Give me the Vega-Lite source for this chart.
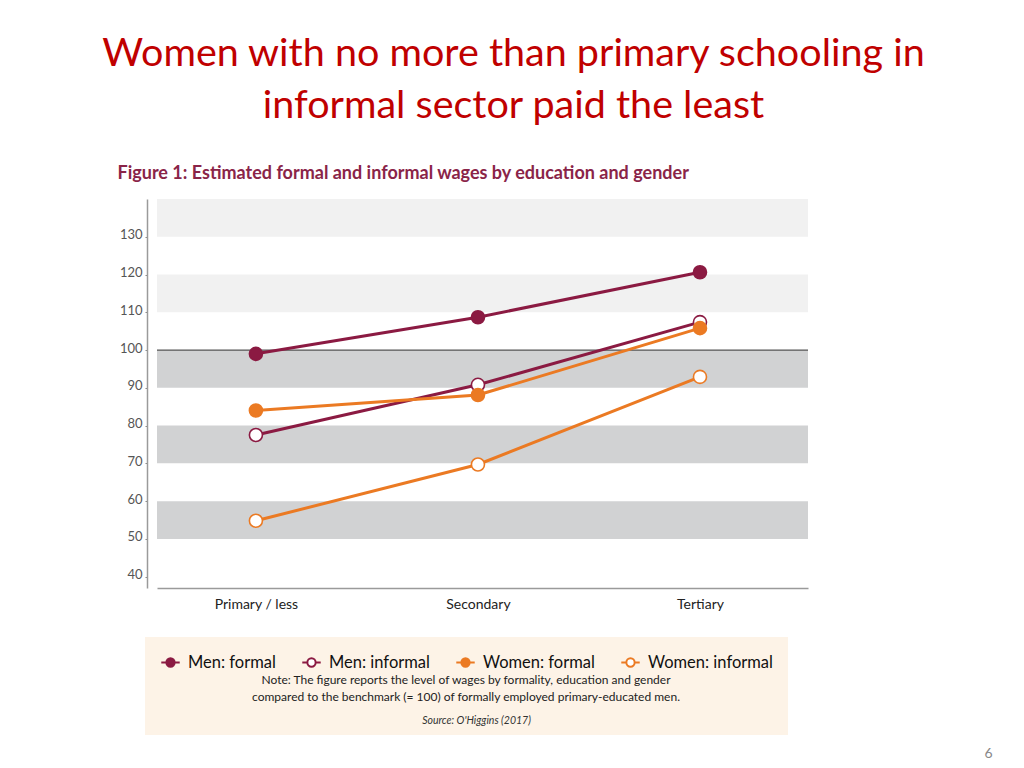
{
  "$schema": "https://vega.github.io/schema/vega-lite/v6.json",
  "width": 651,
  "height": 389,
  "autosize": {"type": "none"},
  "padding": {"left": 157, "top": 199, "right": 216, "bottom": 180},
  "background": "white",
  "title": {
    "text": ["Women with no more than primary schooling in", "informal sector paid the least"],
    "font": "Lato",
    "fontSize": 39.5,
    "fontWeight": "normal",
    "color": "#c00000",
    "anchor": "middle",
    "frame": "group",
    "dx": 31,
    "dy": -38,
    "lineHeight": 52,
    "offset": 0
  },
  "config": {"view": {"stroke": null}},
  "datasets": {
    "bands": [
      {"lo": 130, "hi": 140, "shade": "light"},
      {"lo": 110, "hi": 120, "shade": "light"},
      {"lo": 90, "hi": 100, "shade": "dark"},
      {"lo": 70, "hi": 80, "shade": "dark"},
      {"lo": 50, "hi": 60, "shade": "dark"}
    ],
    "ref": [{"v": 100}],
    "wages": [
      {"series": "Men: formal", "edu": "Primary / less", "wage": 99},
      {"series": "Men: formal", "edu": "Secondary", "wage": 108.7},
      {"series": "Men: formal", "edu": "Tertiary", "wage": 120.6},
      {"series": "Men: informal", "edu": "Primary / less", "wage": 77.5},
      {"series": "Men: informal", "edu": "Secondary", "wage": 90.8},
      {"series": "Men: informal", "edu": "Tertiary", "wage": 107.4},
      {"series": "Women: formal", "edu": "Primary / less", "wage": 84},
      {"series": "Women: formal", "edu": "Secondary", "wage": 88.1},
      {"series": "Women: formal", "edu": "Tertiary", "wage": 105.8},
      {"series": "Women: informal", "edu": "Primary / less", "wage": 54.8},
      {"series": "Women: informal", "edu": "Secondary", "wage": 69.7},
      {"series": "Women: informal", "edu": "Tertiary", "wage": 92.9}
    ]
  },
  "resolve": {"axis": {"y": "independent"}},
  "layer": [
    {
      "data": {"name": "bands"},
      "transform": [{"filter": "datum.shade === 'light'"}],
      "mark": {"type": "rect", "color": "#f1f1f1"},
      "encoding": {
        "y": {
          "field": "lo",
          "type": "quantitative",
          "scale": {"domain": [37, 140], "nice": false, "zero": false},
          "axis": {
            "orient": "left",
            "offset": 10,
            "values": [40, 50, 60, 70, 80, 90, 100, 110, 120, 130],
            "grid": false,
            "domainColor": "#9a9a9a",
            "domainWidth": 1.5,
            "tickColor": "#888888",
            "tickSize": 2,
            "tickWidth": 1,
            "labelFont": "Lato",
            "labelFontSize": 13,
            "labelColor": "#555555",
            "labelPadding": 3,
            "labelOffset": -2,
            "title": "Figure 1: Estimated formal and informal wages by education and gender",
            "titleAngle": 0,
            "titleAlign": "left",
            "titleBaseline": "alphabetic",
            "titleX": -30,
            "titleY": -21,
            "titleFont": "Lato",
            "titleFontSize": 18,
            "titleFontWeight": "bold",
            "titleColor": "#8a2448"
          }
        },
        "y2": {"field": "hi"}
      }
    },
    {
      "data": {"name": "bands"},
      "transform": [{"filter": "datum.shade === 'dark'"}],
      "mark": {"type": "rect", "color": "#d1d2d3"},
      "encoding": {
        "y": {"field": "lo", "type": "quantitative", "axis": null},
        "y2": {"field": "hi"}
      }
    },
    {
      "data": {"name": "ref"},
      "mark": {"type": "rule", "color": "#555555", "strokeWidth": 1.2},
      "encoding": {
        "y": {
          "field": "v",
          "type": "quantitative",
          "axis": {
            "orient": "right",
            "domain": false,
            "ticks": false,
            "labels": false,
            "grid": false,
            "title": "6",
            "titleAngle": 0,
            "titleX": 180,
            "titleY": 558,
            "titleAlign": "center",
            "titleBaseline": "alphabetic",
            "titleFont": "Lato",
            "titleFontSize": 14,
            "titleFontWeight": "normal",
            "titleColor": "#888888"
          }
        }
      }
    },
    {
      "data": {"name": "wages"},
      "mark": {"type": "line", "strokeWidth": 3},
      "encoding": {
        "x": {
          "field": "edu",
          "type": "nominal",
          "sort": ["Primary / less", "Secondary", "Tertiary"],
          "scale": {"type": "point", "padding": 0.466, "align": 0.478},
          "axis": {
            "orient": "bottom",
            "domainColor": "#9a9a9a",
            "domainWidth": 1.5,
            "ticks": false,
            "grid": false,
            "labelFont": "Lato",
            "labelFontSize": 14,
            "labelColor": "#222222",
            "labelPadding": 9,
            "labelAngle": 0,
            "title": "Source: O'Higgins (2017)",
            "titleFont": "Lato",
            "titleFontSize": 10.5,
            "titleFontStyle": "italic",
            "titleFontWeight": "normal",
            "titleColor": "#333333",
            "titleX": 319,
            "titleY": 135,
            "titleAlign": "center",
            "titleBaseline": "alphabetic",
            "zindex": 1
          }
        },
        "y": {"field": "wage", "type": "quantitative", "axis": null},
        "color": {
          "field": "series",
          "type": "nominal",
          "scale": {
            "domain": ["Men: formal", "Men: informal", "Women: formal", "Women: informal"],
            "range": ["#8b1a42", "#8b1a42", "#eb7a23", "#eb7a23"]
          },
          "legend": {
            "orient": "none",
            "legendX": -12,
            "legendY": 438,
            "direction": "horizontal",
            "columns": 4,
            "fillColor": "#fdf3e7",
            "padding": 15,
            "columnPadding": 22,
            "title": ["Note: The figure reports the level of wages by formality, education and gender", "compared to the benchmark (= 100) of formally employed primary-educated men.", " "],
            "titleOrient": "bottom",
            "titleAnchor": "middle",
            "titleAlign": "center",
            "titleFont": "Lato",
            "titleFontSize": 12,
            "titleFontWeight": "normal",
            "titleColor": "#222222",
            "titleLineHeight": 17,
            "titlePadding": 4,
            "titleLimit": 700,
            "labelFont": "Lato",
            "labelFontSize": 16.5,
            "labelColor": "#111111",
            "labelOffset": 7,
            "symbolType": "M-1,0L-0.45,0M0.45,0L1,0M-0.45,0A0.45,0.45 0 1 1 0.45,0A0.45,0.45 0 1 1 -0.45,0Z",
            "symbolSize": 340,
            "symbolStrokeWidth": 2,
            "symbolOpacity": 1
          }
        }
      }
    },
    {
      "data": {"name": "wages"},
      "mark": {"type": "point", "shape": "circle", "size": 170, "strokeWidth": 1.6, "opacity": 1, "filled": false},
      "encoding": {
        "x": {"field": "edu", "type": "nominal", "sort": ["Primary / less", "Secondary", "Tertiary"]},
        "y": {"field": "wage", "type": "quantitative", "axis": null},
        "color": {"field": "series", "type": "nominal"},
        "fill": {
          "field": "series",
          "type": "nominal",
          "scale": {
            "domain": ["Men: formal", "Men: informal", "Women: formal", "Women: informal"],
            "range": ["#8b1a42", "#ffffff", "#eb7a23", "#ffffff"]
          },
          "legend": {
            "orient": "none",
            "legendX": -12,
            "legendY": 438,
            "direction": "horizontal",
            "columns": 4,
            "fillColor": "#fdf3e7",
            "padding": 15,
            "columnPadding": 22,
            "title": ["Note: The figure reports the level of wages by formality, education and gender", "compared to the benchmark (= 100) of formally employed primary-educated men.", " "],
            "titleOrient": "bottom",
            "titleAnchor": "middle",
            "titleAlign": "center",
            "titleFont": "Lato",
            "titleFontSize": 12,
            "titleFontWeight": "normal",
            "titleColor": "#222222",
            "titleLineHeight": 17,
            "titlePadding": 4,
            "titleLimit": 700,
            "labelFont": "Lato",
            "labelFontSize": 16.5,
            "labelColor": "#111111",
            "labelOffset": 7,
            "symbolType": "M-1,0L-0.45,0M0.45,0L1,0M-0.45,0A0.45,0.45 0 1 1 0.45,0A0.45,0.45 0 1 1 -0.45,0Z",
            "symbolSize": 340,
            "symbolStrokeWidth": 2,
            "symbolOpacity": 1
          }
        }
      }
    }
  ]
}
